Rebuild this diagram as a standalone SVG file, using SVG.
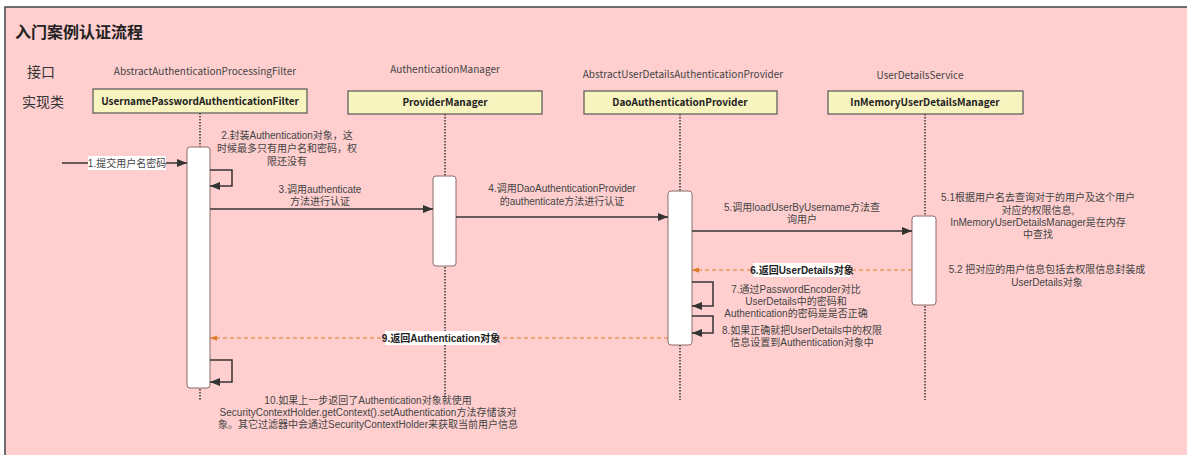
<svg xmlns="http://www.w3.org/2000/svg" width="1187" height="455" viewBox="0 0 1187 455">
  <style>
    .cjk { font-family: "Noto Sans CJK SC", "Noto Sans", sans-serif; }
    .lat { font-family: "Liberation Sans", "Noto Sans CJK SC", sans-serif; }
    .title { font-size: 16px; font-weight: bold; fill: #222; }
    .side { font-size: 14px; fill: #333; }
    .iface { font-size: 10px; fill: #444; text-anchor: middle; }
    .head { fill: #f8f4c0; stroke: #555; stroke-width: 1.2; }
    .headtxt { font-size: 10px; font-weight: bold; fill: #222; text-anchor: middle; }
    .life { stroke: #333; stroke-width: 1.5; stroke-dasharray: 1.5 1.5; fill: none; }
    .act { fill: #fff; stroke: #8a6a6a; stroke-width: 1; }
    .msg { stroke: #333; stroke-width: 1.5; fill: none; }
    .ret { stroke: #e07b25; stroke-width: 1; stroke-dasharray: 4 3; fill: none; }
    .lbl { font-size: 10px; fill: #444; text-anchor: middle; }
    .blbl { font-size: 10px; font-weight: bold; fill: #222; text-anchor: middle; }
    .bg { fill: #fff; }
  </style>
  <defs>
    <marker id="arrow" viewBox="0 0 10 8" refX="10" refY="4" markerWidth="11" markerHeight="8" markerUnits="userSpaceOnUse" orient="auto">
      <path d="M0,0 L10,4 L0,8 Z" fill="#333"/>
    </marker>
    <marker id="arrowRet" viewBox="0 0 8 6" refX="8" refY="3" markerWidth="7" markerHeight="6" markerUnits="userSpaceOnUse" orient="auto">
      <path d="M0,0 L8,3 L0,6 Z" fill="#e07b25"/>
    </marker>
  </defs>

  <!-- page background and frame -->
  <rect x="0" y="0" width="1187" height="455" fill="#fff"/>
  <rect x="5" y="7" width="1190" height="460" fill="#ffcfcf" stroke="#444" stroke-width="1.5"/>

  <text class="cjk title" x="15" y="38">入门案例认证流程</text>
  <text class="cjk side" x="27" y="77">接口</text>
  <text class="cjk side" x="22" y="107">实现类</text>

  <!-- participants -->
  <g id="filter">
    <text class="cjk iface" x="205" y="75">AbstractAuthenticationProcessingFilter</text>
    <line class="life" x1="200" y1="113" x2="200" y2="400"/>
    <rect class="head" x="93" y="89" width="214" height="24"/>
    <text class="cjk headtxt" x="200" y="105">UsernamePasswordAuthenticationFilter</text>
    <rect class="act" x="187" y="147" width="23" height="241" rx="3"/>
  </g>

  <g id="providerManager">
    <text class="cjk iface" x="445" y="73">AuthenticationManager</text>
    <line class="life" x1="445" y1="114" x2="445" y2="398"/>
    <rect class="head" x="348" y="91" width="194" height="23"/>
    <text class="cjk headtxt" x="445" y="106">ProviderManager</text>
    <rect class="act" x="433" y="176" width="23" height="90" rx="3"/>
  </g>

  <g id="daoProvider">
    <text class="cjk iface" x="683" y="78">AbstractUserDetailsAuthenticationProvider</text>
    <line class="life" x1="680" y1="114" x2="680" y2="400"/>
    <rect class="head" x="584" y="91" width="193" height="23"/>
    <text class="cjk headtxt" x="680" y="106">DaoAuthenticationProvider</text>
    <rect class="act" x="668" y="191" width="24" height="154" rx="3"/>
  </g>

  <g id="inMemoryManager">
    <text class="cjk iface" x="920" y="79">UserDetailsService</text>
    <line class="life" x1="925" y1="114" x2="925" y2="400"/>
    <rect class="head" x="828" y="91" width="195" height="23"/>
    <text class="cjk headtxt" x="925" y="106">InMemoryUserDetailsManager</text>
    <rect class="act" x="912" y="216" width="24" height="89" rx="3"/>
  </g>

  <!-- messages -->
  <g id="connectors">
    <line class="msg" x1="62" y1="163" x2="187" y2="163" marker-end="url(#arrow)"/>
    <path class="msg" d="M210,170 H232 V186 H210" marker-end="url(#arrow)"/>
    <line class="msg" x1="210" y1="209" x2="433" y2="209" marker-end="url(#arrow)"/>
    <line class="msg" x1="456" y1="217" x2="668" y2="217" marker-end="url(#arrow)"/>
    <line class="msg" x1="692" y1="231" x2="912" y2="231" marker-end="url(#arrow)"/>
    <line class="ret" x1="912" y1="270" x2="692" y2="270" marker-end="url(#arrowRet)"/>
    <path class="msg" d="M692,282 H713 V306 H692" marker-end="url(#arrow)"/>
    <path class="msg" d="M692,316 H713 V333 H692" marker-end="url(#arrow)"/>
    <line class="ret" x1="668" y1="338" x2="210" y2="338" marker-end="url(#arrowRet)"/>
    <path class="msg" d="M210,360 H232 V382 H210" marker-end="url(#arrow)"/>
  </g>

  <!-- message labels -->
  <g id="labels">
    <rect class="bg" x="88" y="156" width="78" height="14"/>
    <text class="lat lbl" x="127" y="167">1.提交用户名密码</text>

    <text class="lat lbl" x="287" y="139">2.封装Authentication对象，这</text>
    <text class="lat lbl" x="287" y="152">时候最多只有用户名和密码，权</text>
    <text class="lat lbl" x="287" y="165">限还没有</text>

    <text class="lat lbl" x="320" y="193">3.调用authenticate</text>
    <text class="lat lbl" x="320" y="205">方法进行认证</text>

    <text class="lat lbl" x="562" y="192">4.调用DaoAuthenticationProvider</text>
    <text class="lat lbl" x="562" y="205">的authenticate方法进行认证</text>

    <text class="lat lbl" x="802" y="211">5.调用loadUserByUsername方法查</text>
    <text class="lat lbl" x="802" y="223">询用户</text>

    <text class="lat lbl" x="1038" y="201">5.1根据用户名去查询对于的用户及这个用户</text>
    <text class="lat lbl" x="1038" y="214">对应的权限信息,</text>
    <text class="lat lbl" x="1038" y="226">InMemoryUserDetailsManager是在内存</text>
    <text class="lat lbl" x="1038" y="238">中查找</text>

    <text class="lat lbl" x="1047" y="273">5.2 把对应的用户信息包括去权限信息封装成</text>
    <text class="lat lbl" x="1047" y="286">UserDetails对象</text>

    <rect class="bg" x="753" y="263" width="97" height="14"/>
    <text class="lat blbl" x="802" y="274">6.返回UserDetails对象</text>

    <text class="lat lbl" x="796" y="293">7.通过PasswordEncoder对比</text>
    <text class="lat lbl" x="796" y="305">UserDetails中的密码和</text>
    <text class="lat lbl" x="796" y="317">Authentication的密码是是否正确</text>

    <text class="lat lbl" x="802" y="334">8.如果正确就把UserDetails中的权限</text>
    <text class="lat lbl" x="802" y="346">信息设置到Authentication对象中</text>

    <rect class="bg" x="385" y="331" width="112" height="14"/>
    <text class="lat blbl" x="441" y="342">9.返回Authentication对象</text>

    <text class="lat lbl" x="368" y="404">10.如果上一步返回了Authentication对象就使用</text>
    <text class="lat lbl" x="368" y="416">SecurityContextHolder.getContext().setAuthentication方法存储该对</text>
    <text class="lat lbl" x="368" y="428">象。其它过滤器中会通过SecurityContextHolder来获取当前用户信息</text>
  </g>
</svg>
